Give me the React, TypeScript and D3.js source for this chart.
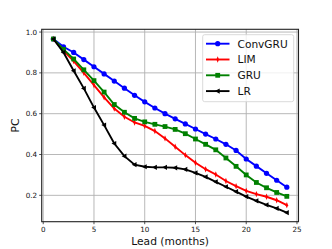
import React from 'react';
import * as d3 from 'd3';

const leads = d3.range(1, 25);
const convgru = [0.966, 0.928, 0.9, 0.865, 0.83, 0.795, 0.76, 0.725, 0.69, 0.658, 0.628, 0.6, 0.575, 0.55, 0.525, 0.5, 0.476, 0.45, 0.42, 0.378, 0.343, 0.308, 0.274, 0.24];
const lim = [0.966, 0.908, 0.858, 0.8, 0.74, 0.68, 0.625, 0.585, 0.557, 0.54, 0.515, 0.479, 0.438, 0.397, 0.36, 0.328, 0.302, 0.27, 0.245, 0.222, 0.206, 0.193, 0.176, 0.152];
const gru = [0.966, 0.915, 0.868, 0.815, 0.762, 0.706, 0.645, 0.607, 0.577, 0.56, 0.548, 0.537, 0.523, 0.502, 0.476, 0.45, 0.423, 0.383, 0.342, 0.3, 0.263, 0.237, 0.214, 0.195];
const lr = [0.966, 0.9, 0.81, 0.724, 0.63, 0.544, 0.454, 0.392, 0.35, 0.34, 0.337, 0.337, 0.335, 0.327, 0.31, 0.29, 0.266, 0.242, 0.218, 0.194, 0.173, 0.153, 0.136, 0.115];

const xTicks = [0, 5, 10, 15, 20, 25];
const yTicks = [0.2, 0.4, 0.6, 0.8, 1.0];

const series = [
  { name: 'ConvGRU', values: convgru, color: '#0000ff', marker: 'circle' },
  { name: 'LIM', values: lim, color: '#ff0000', marker: 'thin' },
  { name: 'GRU', values: gru, color: '#008000', marker: 'square' },
  { name: 'LR', values: lr, color: '#000000', marker: 'left' },
];

const W = 332;
const H = 249;
const margin = { top: 29.3, right: 33.5, bottom: 27.3, left: 41.7 };

const x = d3.scaleLinear().domain([-0.15, 25.15]).range([margin.left, W - margin.right]);
const y = d3.scaleLinear().domain([0.0708, 1.0135]).range([H - margin.bottom, margin.top]);

const Marker = ({ kind, cx, cy, color }: { kind: string; cx: number; cy: number; color: string }) => {
  if (kind === 'circle') return <circle cx={cx} cy={cy} r={2.6} fill={color} />;
  if (kind === 'square') return <rect x={cx - 2.4} y={cy - 2.4} width={4.8} height={4.8} fill={color} />;
  if (kind === 'thin')
    return <path d={`M${cx},${cy - 3.2}L${cx + 1.3},${cy}L${cx},${cy + 3.2}L${cx - 1.3},${cy}Z`} fill={color} />;
  return <path d={`M${cx - 2.8},${cy}L${cx + 2},${cy - 2.6}L${cx + 2},${cy + 2.6}Z`} fill={color} />;
};

export default function App() {
  const line = d3.line<number>().x((_, i) => x(leads[i])).y(d => y(d));
  const x0 = margin.left;
  const x1 = W - margin.right;
  const y0 = margin.top;
  const y1 = H - margin.bottom;
  const lx = 202.7;
  const ly = 34.7;

  return (
    <svg width={W} height={H} style={{ position: 'absolute', left: 0, top: 0 }} fontFamily="DejaVu Sans">
      <rect width={W} height={H} fill="#fff" />
      {xTicks.map(t => (
        <line key={'gx' + t} x1={x(t)} x2={x(t)} y1={y0} y2={y1} stroke="#b0b0b0" strokeWidth={0.9} />
      ))}
      {yTicks.map(t => (
        <line key={'gy' + t} x1={x0} x2={x1} y1={y(t)} y2={y(t)} stroke="#b0b0b0" strokeWidth={0.9} />
      ))}
      {series.map(s => (
        <g key={s.name}>
          <path d={line(s.values) || ''} fill="none" stroke={s.color} strokeWidth={1.9} />
          {s.values.map((v, i) => (
            <Marker key={i} kind={s.marker} cx={x(leads[i])} cy={y(v)} color={s.color} />
          ))}
        </g>
      ))}
      <rect x={x0} y={y0} width={x1 - x0} height={y1 - y0} fill="none" stroke="#222" strokeWidth={1.1} />
      {xTicks.map(t => (
        <g key={'tx' + t}>
          <line x1={x(t)} x2={x(t)} y1={y1} y2={y1 + 2.5} stroke="#222" strokeWidth={0.8} />
          <text x={x(t)} y={y1 + 10.5} fontSize={7.2} textAnchor="middle" fill="#111">{t}</text>
        </g>
      ))}
      {yTicks.map(t => (
        <g key={'ty' + t}>
          <line x1={x0 - 2.5} x2={x0} y1={y(t)} y2={y(t)} stroke="#222" strokeWidth={0.8} />
          <text x={x0 - 4.5} y={y(t) + 2.6} fontSize={7.2} textAnchor="end" fill="#111">{t.toFixed(1)}</text>
        </g>
      ))}
      <text x={(x0 + x1) / 2} y={245} fontSize={10.7} textAnchor="middle" fill="#111">Lead (months)</text>
      <text transform={`translate(18.5,${(y0 + y1) / 2}) rotate(-90)`} fontSize={10.7} textAnchor="middle" fill="#111">PC</text>
      <rect x={lx} y={ly} width={91} height={67} rx={2} fill="#fff" fillOpacity={0.8} stroke="#d0d0d0" strokeWidth={0.8} />
      {series.map((s, i) => {
        const cy = ly + 9 + i * 15.8;
        return (
          <g key={'lg' + s.name}>
            <line x1={206} x2={229.5} y1={cy} y2={cy} stroke={s.color} strokeWidth={1.9} />
            <Marker kind={s.marker} cx={217.7} cy={cy} color={s.color} />
            <text x={237.5} y={cy + 3.8} fontSize={10.6} fill="#111">{s.name}</text>
          </g>
        );
      })}
    </svg>
  );
}
